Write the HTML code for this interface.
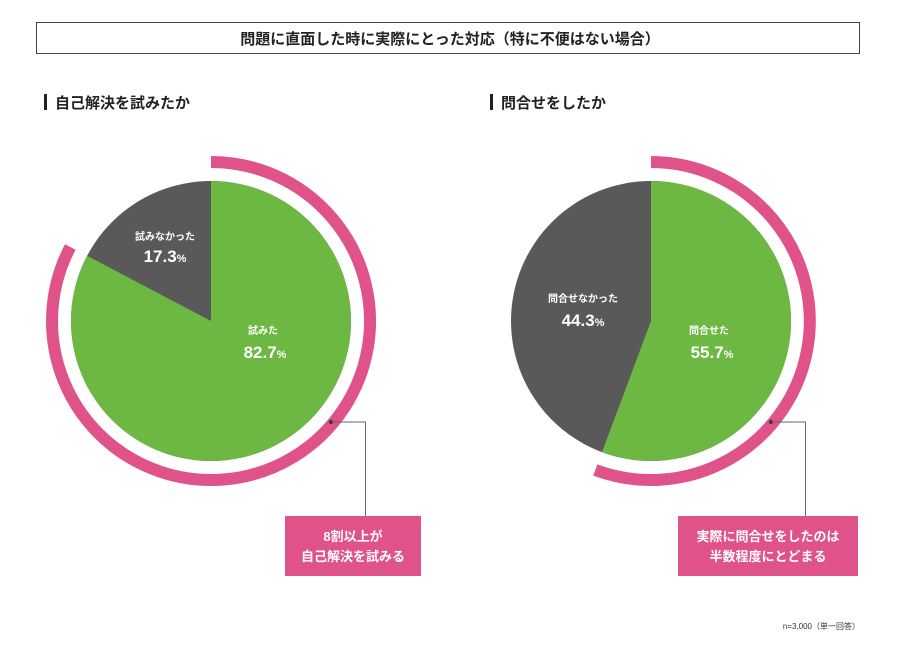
<!DOCTYPE html>
<html><head><meta charset="utf-8"><style>
body{margin:0;background:#fff;}
svg text{font-family:"Liberation Sans","Noto Sans CJK JP",sans-serif;font-weight:bold;}
</style></head><body>
<svg width="900" height="654" viewBox="0 0 900 654" xmlns="http://www.w3.org/2000/svg">
<rect x="36.5" y="22.5" width="823" height="31" fill="#fff" stroke="#444" stroke-width="1"/>
<text x="450" y="44" font-size="15" text-anchor="middle" fill="#222">問題に直面した時に実際にとった対応（特に不便はない場合）</text>
<rect x="44" y="94" width="3" height="16" fill="#222"/>
<text x="55" y="108" font-size="15" fill="#222">自己解決を試みたか</text>
<rect x="490" y="94" width="3" height="16" fill="#222"/>
<text x="501" y="108" font-size="15" fill="#222">問合せをしたか</text>

<!-- left pie -->
<circle cx="211" cy="321" r="140" fill="#595959"/>
<path d="M211 321 L211 181 A140 140 0 1 1 87.1 255.8 Z" fill="#6db842"/>
<path d="M211 162 A159 159 0 1 1 70.3 247" fill="none" stroke="#e0538a" stroke-width="12"/>
<text x="165" y="240" font-size="10" fill="#fff" text-anchor="middle">試みなかった</text>
<text x="165" y="262" font-size="17" fill="#fff" text-anchor="middle">17.3<tspan font-size="11">%</tspan></text>
<text x="263" y="334" font-size="10" fill="#fff" text-anchor="middle">試みた</text>
<text x="265" y="358" font-size="17" fill="#fff" text-anchor="middle">82.7<tspan font-size="11">%</tspan></text>
<circle cx="331" cy="422" r="2" fill="#333"/>
<polyline points="331,422 365.5,422 365.5,516" fill="none" stroke="#666" stroke-width="1"/>
<rect x="285" y="516" width="136" height="60" fill="#e0538a"/>
<text x="353" y="541" font-size="13" fill="#fff" text-anchor="middle">8割以上が</text>
<text x="353" y="561" font-size="13" fill="#fff" text-anchor="middle">自己解決を試みる</text>

<!-- right pie -->
<circle cx="651" cy="321" r="140" fill="#595959"/>
<path d="M651 321 L651 181 A140 140 0 1 1 602 452.1 Z" fill="#6db842"/>
<path d="M651 162 A159 159 0 1 1 595.3 470" fill="none" stroke="#e0538a" stroke-width="12"/>
<text x="583" y="302" font-size="10" fill="#fff" text-anchor="middle">問合せなかった</text>
<text x="583" y="326" font-size="17" fill="#fff" text-anchor="middle">44.3<tspan font-size="11">%</tspan></text>
<text x="709" y="334" font-size="10" fill="#fff" text-anchor="middle">問合せた</text>
<text x="712" y="358" font-size="17" fill="#fff" text-anchor="middle">55.7<tspan font-size="11">%</tspan></text>
<circle cx="771" cy="422" r="2" fill="#333"/>
<polyline points="771,422 805.5,422 805.5,516" fill="none" stroke="#666" stroke-width="1"/>
<rect x="678" y="516" width="180" height="60" fill="#e0538a"/>
<text x="768" y="541" font-size="13" fill="#fff" text-anchor="middle">実際に問合せをしたのは</text>
<text x="768" y="561" font-size="13" fill="#fff" text-anchor="middle">半数程度にとどまる</text>

<text x="860" y="629" font-size="8" font-weight="normal" fill="#333" text-anchor="end" style="font-weight:normal">n=3,000（単一回答）</text>
</svg>
</body></html>
